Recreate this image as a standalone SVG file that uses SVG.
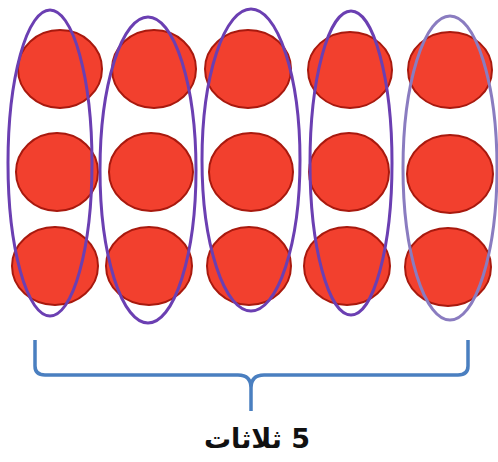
<svg xmlns="http://www.w3.org/2000/svg" width="498" height="462" viewBox="0 0 498 462">
<style>
.dot{fill:#f2402e;stroke:#a8190e;stroke-width:2}
.ring{fill:none;stroke:#6b3fb2;stroke-width:3}
.ring2{fill:none;stroke:#8a7cc0;stroke-width:3}
.brace{fill:none;stroke:#4a7fc0;stroke-width:3.5;stroke-linecap:butt;stroke-linejoin:round}
.lbl{font-family:"DejaVu Sans",sans-serif;font-weight:bold;font-size:27px;fill:#111}
</style>
<rect width="498" height="462" fill="#fff"/>
<g id="dots">
<ellipse class="dot" cx="60" cy="69" rx="42" ry="39"/>
<ellipse class="dot" cx="57" cy="172" rx="41" ry="39"/>
<ellipse class="dot" cx="55" cy="266" rx="43" ry="39"/>
<ellipse class="dot" cx="154" cy="69" rx="42" ry="39"/>
<ellipse class="dot" cx="151" cy="172" rx="42" ry="39"/>
<ellipse class="dot" cx="149" cy="266" rx="43" ry="39"/>
<ellipse class="dot" cx="248" cy="69" rx="43" ry="39"/>
<ellipse class="dot" cx="251" cy="172" rx="42" ry="39"/>
<ellipse class="dot" cx="249" cy="266" rx="42" ry="39"/>
<ellipse class="dot" cx="350" cy="70" rx="42" ry="38"/>
<ellipse class="dot" cx="349" cy="172" rx="40" ry="39"/>
<ellipse class="dot" cx="347" cy="266" rx="43" ry="39"/>
<ellipse class="dot" cx="450" cy="70" rx="42" ry="38"/>
<ellipse class="dot" cx="450" cy="174" rx="43" ry="39"/>
<ellipse class="dot" cx="448" cy="267" rx="43" ry="39"/>
</g>
<g id="group1"><ellipse class="ring" cx="50" cy="163" rx="42" ry="153"/></g>
<g id="group2"><ellipse class="ring" cx="148" cy="170" rx="48" ry="153"/></g>
<g id="group3"><ellipse class="ring" cx="251" cy="160" rx="49" ry="151"/></g>
<g id="group4"><ellipse class="ring" cx="351" cy="163" rx="41" ry="152"/></g>
<g id="group5"><ellipse class="ring2" cx="450" cy="168" rx="47" ry="152"/></g>
<g id="connectors">
<path class="brace" d="M35,340 V366 Q35,375 45,375 H238 Q251,375 251,388 V411 M251,388 Q251,375 264,375 H458 Q468,375 468,366 V340"/>
</g>
<g id="label">
<text class="lbl" x="257" y="448" text-anchor="middle" direction="rtl" unicode-bidi="embed">5 ثلاثات</text>
</g>
</svg>
